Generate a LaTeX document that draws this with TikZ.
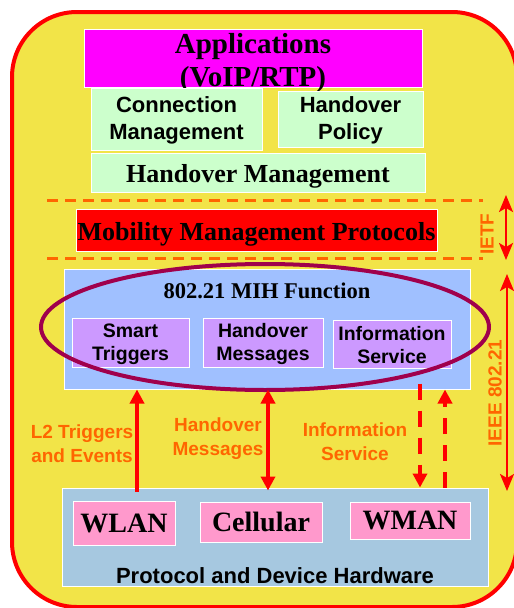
\documentclass[tikz,border=0pt]{standalone}
\usepackage{fontspec}
\setmainfont{Liberation Serif}
\setsansfont{Liberation Sans}
\usetikzlibrary{arrows.meta}
\definecolor{yel}{RGB}{242,228,72}
\definecolor{org}{RGB}{255,102,0}
\definecolor{mag}{RGB}{255,0,255}
\definecolor{lgreen}{RGB}{204,255,204}
\definecolor{lblue}{RGB}{160,192,255}
\definecolor{lpurp}{RGB}{204,153,255}
\definecolor{hwblue}{RGB}{166,200,224}
\definecolor{pinkb}{RGB}{255,153,204}
\definecolor{ellc}{RGB}{160,0,76}
\tikzset{
  box/.style={draw=white,line width=1pt,inner sep=0pt,align=center,text=black},
  serifbig/.style={font=\bfseries\fontsize{26}{30}\selectfont,text height=22pt,text depth=2pt},
  sansmid/.style={font=\sffamily\bfseries\fontsize{22}{27}\selectfont},
  sanssm/.style={font=\sffamily\bfseries\fontsize{19.5}{23}\selectfont},
  olabel/.style={text=org,align=center,font=\sffamily\bfseries\fontsize{19}{24}\selectfont},
  redarrow/.style={draw=red,line width=4pt,-{Triangle[width=14pt,length=14pt]}},
  reddouble/.style={draw=red,line width=4pt,{Triangle[width=14pt,length=14pt]}-{Triangle[width=14pt,length=14pt]}},
  thinarrow/.style={draw=red,line width=2pt,{Stealth[width=14pt,length=17pt,inset=4pt]}-{Stealth[width=14pt,length=17pt,inset=4pt]}},
  orgdash/.style={draw=org,line width=3pt,dash pattern=on 11pt off 7pt},
}
\begin{document}
\begin{tikzpicture}[x=1pt,y=-1pt]
\clip (0,0) rectangle (514,608);
\fill[white] (0,0) rectangle (514,608);
\draw[red,line width=4pt,fill=yel,rounded corners=65pt] (12,12) rectangle (517,607);
% top stack
\node[box,fill=mag,minimum width=338pt,minimum height=58pt] (apps) at (253,58) {};
\node[align=center,font=\bfseries\fontsize{29}{33}\selectfont] (appst) at (253,63) {Applications\\(VoIP/RTP)};
\node[box,fill=lgreen,sansmid,minimum width=171pt,minimum height=62pt] (conn) at (176.5,119) {\rule{0pt}{19pt}Connection\\Management};
\node[box,fill=lgreen,sansmid,minimum width=145pt,minimum height=56pt] (hpol) at (350.5,119) {\rule{0pt}{19pt}Handover\\Policy};
\node[box,fill=lgreen,serifbig,minimum width=334pt,minimum height=39pt] (hman) at (258,172.5) {Handover Management};
% IETF band
\coordinate (dl1) at (47,200); \coordinate (dr1) at (483,200);
\coordinate (dl2) at (47,258); \coordinate (dr2) at (483,258);
\draw[orgdash] (dl1) -- (dr1);
\draw[orgdash] (dl2) -- (dr2);
\node[box,fill=red,serifbig,minimum width=361pt,minimum height=42pt] (mmp) at (256.5,230) {Mobility Management Protocols};
\node[olabel,rotate=90] (ietf) at (487,234) {IETF};
\coordinate (ietfa) at (506,195); \coordinate (ietfb) at (506,260);
\draw[thinarrow] (ietfa) -- (ietfb);
% MIH
\node[box,fill=lblue,minimum width=406pt,minimum height=120pt] (mih) at (267,329) {};
\node[font=\bfseries\fontsize{22.5}{26}\selectfont] (mihtitle) at (267,291) {802.21 MIH Function};
\node[box,fill=lpurp,sanssm,minimum width=117pt,minimum height=49pt] (st) at (130.5,342.5) {\rule{0pt}{17pt}Smart\\Triggers};
\node[box,fill=lpurp,sanssm,minimum width=120pt,minimum height=49pt] (hm) at (263,342.5) {\rule{0pt}{17pt}Handover\\Messages};
\node[box,fill=lpurp,sanssm,minimum width=118pt,minimum height=48pt] (is) at (392,344) {\rule{0pt}{17pt}Information\\Service};
\draw[ellc,line width=4pt] (265,327) ellipse [x radius=224pt,y radius=63pt];
\node[olabel,rotate=90] (ieee) at (495,393) {IEEE 802.21};
\coordinate (ieeea) at (507,274); \coordinate (ieeeb) at (507,491);
\draw[thinarrow] (ieeea) -- (ieeeb);
% hardware
\node[box,fill=hwblue,minimum width=426pt,minimum height=98pt] (hw) at (275,537) {};
\node[box,fill=pinkb,font=\bfseries\fontsize{28}{32}\selectfont,minimum width=102pt,minimum height=44pt] (wlan) at (124,523) {WLAN};
\node[box,fill=pinkb,font=\bfseries\fontsize{28}{32}\selectfont,minimum width=122pt,minimum height=40pt] (cell) at (261,522) {Cellular};
\node[box,fill=pinkb,font=\bfseries\fontsize{28}{32}\selectfont,minimum width=120pt,minimum height=37pt] (wman) at (410,520.5) {WMAN};
\node[font=\sffamily\bfseries\fontsize{22}{26}\selectfont] (hwt) at (275,576) {Protocol and Device Hardware};
% connectors
\draw[redarrow] ([yshift=-4pt]hw.north -| 137,0) -- (mih.south -| 137,0);
\draw[reddouble] ([yshift=-3pt]hw.north -| 268,0) -- (mih.south -| 268,0);
\draw[redarrow,dash pattern=on 16pt off 11pt] ([yshift=6pt]mih.south -| 420,0) -- (hw.north -| 420,0);
\draw[redarrow,dash pattern=on 16pt off 11pt] (hw.north -| 445,0) -- (mih.south -| 445,0);
% labels
\node[olabel] (l2) at (82,444) {L2 Triggers\\and Events};
\node[olabel] (hml) at (218,439) {Handover\\Messages};
\node[olabel] (isl) at (355,442) {Information\\Service};
\end{tikzpicture}
\end{document}
